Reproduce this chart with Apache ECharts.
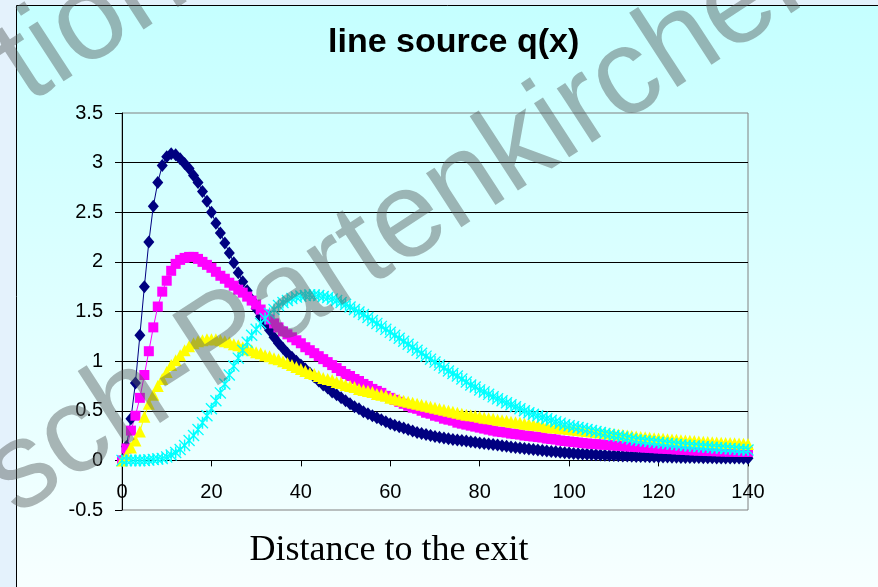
<!DOCTYPE html>
<html>
<head>
<meta charset="utf-8">
<title>line source q(x)</title>
<script src="https://cdn.jsdelivr.net/npm/echarts@6/dist/echarts.min.js"></script>
<style>
  html, body { margin: 0; padding: 0; }
  #chart { width: 878px; height: 587px; }
</style>
</head>
<body>
<div id="chart"></div>
<script>
// distance to the exit (x samples)
const distance = [
  0, 1, 2, 3, 4, 5, 6, 7, 8, 9,
  10, 11, 12, 13, 14, 15, 16, 17, 18, 19,
  20, 21, 22, 23, 24, 25, 26, 27, 28, 29,
  30, 31, 32, 33, 34, 35, 36, 37, 38, 39,
  40, 41, 42, 43, 44, 45, 46, 47, 48, 49,
  50, 51, 52, 53, 54, 55, 56, 57, 58, 59,
  60, 61, 62, 63, 64, 65, 66, 67, 68, 69,
  70, 71, 72, 73, 74, 75, 76, 77, 78, 79,
  80, 81, 82, 83, 84, 85, 86, 87, 88, 89,
  90, 91, 92, 93, 94, 95, 96, 97, 98, 99,
  100, 101, 102, 103, 104, 105, 106, 107, 108, 109,
  110, 111, 112, 113, 114, 115, 116, 117, 118, 119,
  120, 121, 122, 123, 124, 125, 126, 127, 128, 129,
  130, 131, 132, 133, 134, 135, 136, 137, 138, 139,
  140
];

// q(x), navy diamonds
const qNavy = [
  0, 0.14, 0.42, 0.78, 1.26, 1.75, 2.2, 2.56, 2.8, 2.97,
  3.06, 3.09, 3.08, 3.04, 2.99, 2.94, 2.87, 2.8, 2.71, 2.61,
  2.5, 2.39, 2.29, 2.19, 2.09, 1.99, 1.89, 1.8, 1.71, 1.62,
  1.53, 1.45, 1.38, 1.31, 1.24, 1.18, 1.13, 1.08, 1.04, 1.0,
  0.96, 0.92, 0.88, 0.84, 0.8, 0.76, 0.73, 0.69, 0.66, 0.63,
  0.6, 0.57, 0.54, 0.52, 0.49, 0.47, 0.45, 0.43, 0.41, 0.39,
  0.37, 0.355, 0.34, 0.325, 0.31, 0.295, 0.28, 0.27, 0.26, 0.25,
  0.24, 0.232, 0.225, 0.218, 0.211, 0.205, 0.2, 0.194, 0.188, 0.182,
  0.176, 0.17, 0.165, 0.16, 0.154, 0.148, 0.142, 0.136, 0.13, 0.125,
  0.12, 0.115, 0.11, 0.105, 0.1, 0.095, 0.09, 0.086, 0.082, 0.078,
  0.074, 0.07, 0.067, 0.064, 0.061, 0.058, 0.056, 0.054, 0.052, 0.05,
  0.048, 0.046, 0.045, 0.043, 0.042, 0.04, 0.039, 0.038, 0.037, 0.036,
  0.035, 0.034, 0.033, 0.032, 0.031, 0.03, 0.03, 0.029, 0.028, 0.028,
  0.027, 0.026, 0.026, 0.025, 0.025, 0.024, 0.024, 0.023, 0.023, 0.022,
  0.022
];

// q(x), magenta squares
const qMagenta = [
  0, 0.12, 0.3, 0.45, 0.63, 0.86, 1.1, 1.34, 1.55, 1.7,
  1.81, 1.91, 1.98, 2.02, 2.04, 2.05, 2.05, 2.03, 2.0, 1.97,
  1.94, 1.9, 1.86, 1.83, 1.79, 1.76, 1.72, 1.69, 1.65, 1.61,
  1.57, 1.52, 1.47, 1.42, 1.38, 1.34, 1.3, 1.27, 1.24, 1.21,
  1.18, 1.14, 1.11, 1.08, 1.05, 1.02, 0.99, 0.96, 0.93, 0.9,
  0.87, 0.85, 0.82, 0.8, 0.77, 0.75, 0.72, 0.7, 0.68, 0.65,
  0.63, 0.61, 0.59, 0.57, 0.55, 0.53, 0.52, 0.5, 0.48, 0.47,
  0.45, 0.44, 0.42, 0.41, 0.4, 0.38, 0.37, 0.36, 0.35, 0.34,
  0.33, 0.32, 0.31, 0.3, 0.29, 0.285, 0.28, 0.27, 0.265, 0.26,
  0.25, 0.245, 0.24, 0.235, 0.23, 0.22, 0.215, 0.21, 0.2, 0.195,
  0.19, 0.185, 0.18, 0.175, 0.17, 0.167, 0.164, 0.16, 0.157, 0.154,
  0.15, 0.147, 0.144, 0.141, 0.138, 0.135, 0.132, 0.129, 0.126, 0.123,
  0.12, 0.118, 0.115, 0.113, 0.11, 0.107, 0.105, 0.102, 0.1, 0.098,
  0.096, 0.094, 0.093, 0.092, 0.09, 0.089, 0.088, 0.087, 0.086, 0.085,
  0.085
];

// q(x), yellow triangles
const qYellow = [
  0, 0.05, 0.13, 0.2, 0.29, 0.44, 0.57, 0.66, 0.75, 0.82,
  0.89, 0.96, 1.01, 1.06, 1.11, 1.15, 1.18, 1.2, 1.21, 1.22,
  1.22, 1.22, 1.21, 1.2, 1.19, 1.17, 1.16, 1.14, 1.12, 1.11,
  1.09, 1.08, 1.06, 1.05, 1.03, 1.02, 1.0, 0.98, 0.96, 0.94,
  0.92, 0.9, 0.88, 0.87, 0.85, 0.83, 0.82, 0.81, 0.79, 0.78,
  0.76, 0.75, 0.74, 0.72, 0.71, 0.7, 0.69, 0.67, 0.66, 0.65,
  0.63, 0.62, 0.61, 0.6, 0.59, 0.58, 0.57, 0.56, 0.55, 0.54,
  0.53, 0.52, 0.51, 0.5, 0.49, 0.48, 0.47, 0.46, 0.455, 0.45,
  0.44, 0.43, 0.425, 0.42, 0.41, 0.405, 0.4, 0.39, 0.385, 0.38,
  0.37, 0.365, 0.36, 0.355, 0.35, 0.34, 0.335, 0.33, 0.325, 0.32,
  0.315, 0.31, 0.305, 0.3, 0.295, 0.29, 0.285, 0.28, 0.275, 0.27,
  0.265, 0.26, 0.255, 0.25, 0.245, 0.24, 0.236, 0.232, 0.228, 0.224,
  0.22, 0.217, 0.214, 0.21, 0.207, 0.204, 0.2, 0.197, 0.194, 0.191,
  0.188, 0.185, 0.183, 0.18, 0.178, 0.176, 0.174, 0.172, 0.17, 0.168,
  0.166
];

// q(x), cyan stars
const qCyan = [
  0, 0, 0, 0, 0, 0, 0.005, 0.01, 0.015, 0.02,
  0.035, 0.055, 0.08, 0.11, 0.15, 0.2, 0.25, 0.31, 0.38, 0.45,
  0.52, 0.6, 0.68, 0.77, 0.86, 0.95, 1.03, 1.11, 1.19, 1.26,
  1.32, 1.38, 1.43, 1.48, 1.52, 1.56, 1.59, 1.61, 1.63, 1.645,
  1.655, 1.66, 1.665, 1.665, 1.66, 1.65, 1.64, 1.625, 1.61, 1.59,
  1.57, 1.545, 1.52, 1.495, 1.47, 1.44, 1.41, 1.38, 1.35, 1.32,
  1.29, 1.26, 1.23, 1.2, 1.17, 1.14, 1.11, 1.08, 1.05, 1.02,
  0.99, 0.96, 0.93, 0.9, 0.875, 0.85, 0.82, 0.79, 0.76, 0.74,
  0.71, 0.69, 0.665, 0.64, 0.62, 0.6, 0.58, 0.56, 0.54, 0.52,
  0.5, 0.48, 0.465, 0.45, 0.435, 0.42, 0.405, 0.39, 0.375, 0.36,
  0.35, 0.34, 0.33, 0.32, 0.31, 0.3, 0.29, 0.28, 0.27, 0.26,
  0.25, 0.245, 0.235, 0.225, 0.215, 0.205, 0.2, 0.195, 0.19, 0.185,
  0.18, 0.175, 0.17, 0.165, 0.16, 0.155, 0.15, 0.147, 0.144, 0.14,
  0.137, 0.134, 0.13, 0.127, 0.124, 0.12, 0.117, 0.114, 0.11, 0.107,
  0.104
];

const chart = echarts.init(document.getElementById('chart'));

function pairs(ys) {
  return distance.map((x, i) => [x, ys[i]]);
}

// excel style "*" marker
const starPath = 'path://M4.4 0H5.6V10H4.4Z M0 0.8L0.8 0L10 9.2L9.2 10Z M9.2 0L10 0.8L0.8 10L0 9.2Z';

function lineSeries(name, ys, color, symbol, size) {
  return {
    name: name,
    type: 'line',
    data: pairs(ys),
    symbol: symbol,
    symbolSize: size,
    showAllSymbol: true,
    lineStyle: { color: color, width: 1 },
    itemStyle: { color: color, borderWidth: 0 },
    emphasis: { disabled: true }
  };
}

const fontSans = '"Liberation Sans", Arial, sans-serif';

// plot box
const gridTop = 113, gridBottom = 77, chartH = 587;
const yMin = -0.5, yMax = 3.5;
// the x axis sits on y = 0: shift it up from the bottom edge
const zeroOffset = (chartH - gridTop - gridBottom) * (0 - yMin) / (yMax - yMin);

const option = {
  animation: false,
  backgroundColor: {
    type: 'linear', x: 0, y: 0, x2: 0, y2: 1,
    colorStops: [
      { offset: 0, color: '#c4ffff' },
      { offset: 1, color: '#f7ffff' }
    ]
  },
  title: {
    text: 'line source q(x)',
    left: 328,
    top: 26,
    padding: 0,
    textStyle: { fontFamily: fontSans, fontWeight: 'bold', fontSize: 34, color: '#000' }
  },
  grid: {
    left: 122, right: 130, top: gridTop, bottom: gridBottom,
    show: true,
    borderColor: '#808080',
    borderWidth: 1,
    backgroundColor: 'transparent'
  },
  xAxis: {
    type: 'value',
    min: 0,
    max: 140,
    interval: 20,
    offset: -zeroOffset,
    axisLine: { show: true, onZero: false, lineStyle: { color: '#000', width: 1 } },
    axisTick: { show: true, inside: false, length: 6, lineStyle: { color: '#000' } },
    axisLabel: { margin: 22, color: '#000', fontFamily: fontSans, fontSize: 20 },
    splitLine: { show: false }
  },
  yAxis: {
    type: 'value',
    min: yMin,
    max: yMax,
    interval: 0.5,
    axisLine: { show: true, onZero: false, lineStyle: { color: '#000', width: 1 } },
    axisTick: { show: true, inside: false, length: 7, lineStyle: { color: '#000' } },
    axisLabel: { margin: 19, color: '#000', fontFamily: fontSans, fontSize: 20 },
    splitLine: { show: true, showMinLine: false, showMaxLine: false, lineStyle: { color: '#000', width: 1 } }
  },
  series: [
    lineSeries('q1', qNavy, '#000080', 'diamond', [11, 13]),
    lineSeries('q2', qMagenta, '#ff00ff', 'rect', 10),
    lineSeries('q3', qYellow, '#ffff00', 'triangle', 12),
    lineSeries('q4', qCyan, '#00ffff', starPath, 12)
  ],
  graphic: [
    // light blue margin outside the chart area + its black border
    { type: 'rect', z: 50, silent: true, shape: { x: 0, y: 0, width: 16, height: 587 }, style: { fill: '#e4f2fc' } },
    { type: 'rect', z: 50, silent: true, shape: { x: 0, y: 0, width: 878, height: 5 }, style: { fill: '#e4f2fc' } },
    { type: 'line', z: 51, silent: true, shape: { x1: 16.5, y1: 5.5, x2: 16.5, y2: 587 }, style: { stroke: '#000', lineWidth: 1 } },
    { type: 'line', z: 51, silent: true, shape: { x1: 16.5, y1: 5.5, x2: 878, y2: 5.5 }, style: { stroke: '#000', lineWidth: 1 } },
    {
      type: 'text', z: 60, x: 389, y: 551,
      style: {
        text: 'Distance to the exit',
        font: '36px "Liberation Serif", "Times New Roman", serif',
        fill: '#000', align: 'center', verticalAlign: 'middle'
      }
    },
    // watermark
    {
      type: 'text', z: 100, silent: true, x: -2, y: 488, rotation: 33 * Math.PI / 180,
      style: {
        text: 'sch-Partenkirchen',
        font: '122px ' + fontSans,
        fill: 'rgba(85,90,90,0.45)', align: 'left', verticalAlign: 'middle'
      }
    },
    {
      type: 'text', z: 100, silent: true, x: 10, y: 76, rotation: 33 * Math.PI / 180,
      style: {
        text: 'tion',
        font: '122px ' + fontSans,
        fill: 'rgba(85,90,90,0.45)', align: 'left', verticalAlign: 'middle'
      }
    }
  ]
};

chart.setOption(option);
</script>
</body>
</html>
